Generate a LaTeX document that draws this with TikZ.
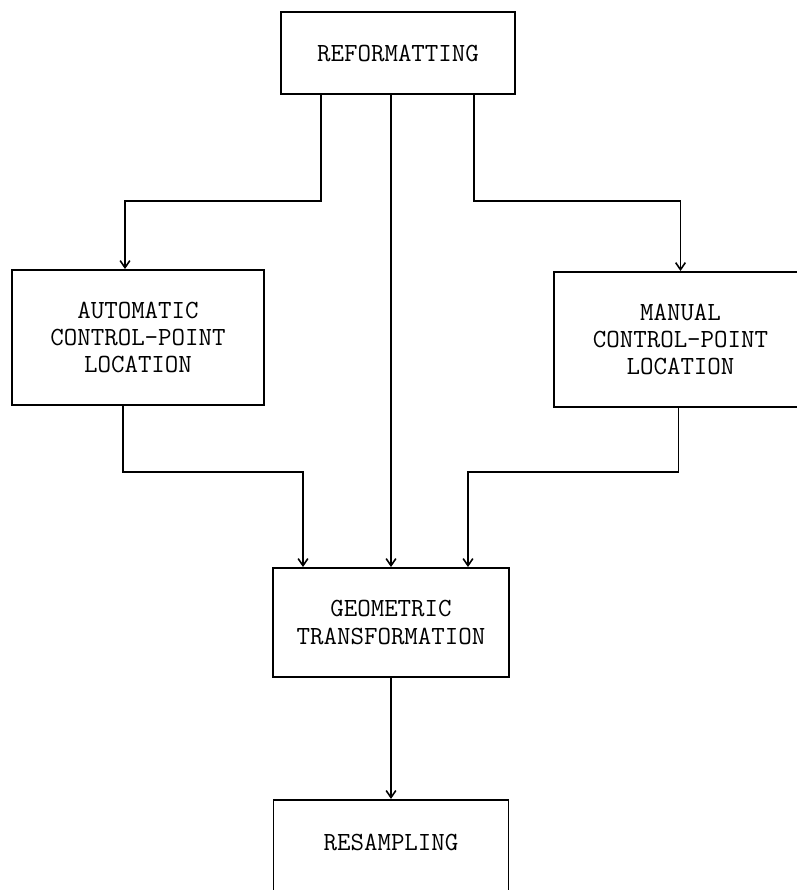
\documentclass[tikz,border=0pt]{standalone}
\usepackage{tikz}
\usetikzlibrary{arrows.meta,positioning,calc}

\begin{document}
\begin{tikzpicture}[
  x=0.02cm,y=-0.02cm,
  box/.style={draw,line width=1.1pt,align=center,inner sep=0pt,
    font=\ttfamily\fontsize{14.9pt}{15.6pt}\selectfont},
  arr/.style={-{Straight Barb[length=4pt,width=5.5pt]},line width=0.9pt}
]
  \useasboundingbox (0,0) rectangle (797,890);
  \node[box,minimum width=4.68cm,minimum height=1.64cm] (reform) at (398,53) {REFORMATTING};
  \node[box,minimum width=5.04cm,minimum height=2.7cm] (auto) at (138,337.5) {AUTOMATIC\\CONTROL-POINT\\LOCATION};
  \node[box,minimum width=5.06cm,minimum height=2.7cm] (manual) at (680.5,339.5) {MANUAL\\CONTROL-POINT\\LOCATION};
  \node[box,minimum width=4.72cm,minimum height=2.18cm] (geo) at (391,622.5) {GEOMETRIC\\TRANSFORMATION};
  \node[box,minimum width=4.7cm,inner ysep=0.68cm,text depth=1.5cm,below=2.42cm of geo] (resamp) {RESAMPLING};
  % split levels
  \coordinate (top) at (0,201);
  \coordinate (mid) at (0,472);
  \draw[arr] ($(reform.south)+(-77,0)$) coordinate (rl) -- (rl |- top) -| ($(auto.north)+(-13,0)$);
  \draw[arr] ($(reform.south)+(76,0)$) coordinate (rr) -- (rr |- top) -| (manual.north);
  \draw[arr] (reform.south -| geo.north) -- (geo.north);
  \draw[arr] ($(auto.south)+(-15,0)$) coordinate (al) -- (al |- mid) -| ($(geo.north)+(-88,0)$);
  \draw[arr] ($(manual.south)+(-2,0)$) coordinate (ml) -- (ml |- mid) -| ($(geo.north)+(77,0)$);
  \draw[arr] (geo.south -| resamp.north) -- (resamp.north);
\end{tikzpicture}
\end{document}
